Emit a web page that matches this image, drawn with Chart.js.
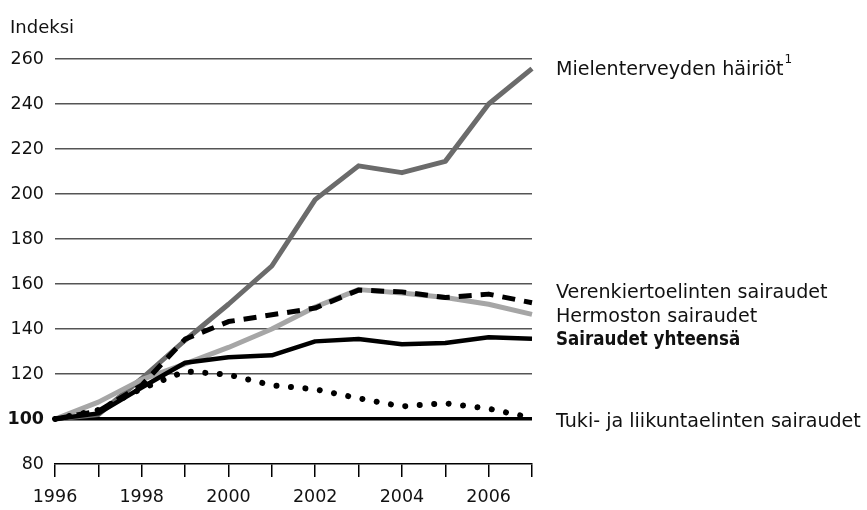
<!DOCTYPE html>
<html>
<head>
<meta charset="utf-8">
<script src="https://cdn.jsdelivr.net/npm/chart.js@4.4.1/dist/chart.umd.min.js"></script>
<style>
  html, body { margin: 0; padding: 0; background: #fff; }
  #wrap { width: 867px; height: 510px; position: relative; }
</style>
</head>
<body>
<div id="wrap"><canvas id="chart"></canvas></div>
<script>
// ─── Data ──────────────────────────────────────
var years = ['1996', '1997', '1998', '1999', '2000', '2001', '2002', '2003', '2004', '2005', '2006', '2007'];
var yTicks = [80, 100, 120, 140, 160, 180, 200, 220, 240, 260];

var mielenterveys = [100, 102, 118, 135, 151, 168, 197.5, 212.5, 209.5, 214.5, 240, 255.7];
var verenkierto   = [100, 103.5, 115, 135.5, 143.3, 146.3, 149.3, 157.3, 156.5, 154, 155.5, 151.7];
var hermosto      = [100, 107.5, 117.5, 124.5, 131.8, 140, 149.8, 157.5, 156, 154, 151, 146.5];
var yhteensa      = [100, 102.5, 114, 125, 127.4, 128.3, 134.5, 135.6, 133.2, 133.8, 136.3, 135.7];
var tuki          = [100, 104, 113.5, 121.2, 119.7, 115, 113.2, 109.2, 105.6, 107, 104.6, 100.5];

var FONT = '"DejaVu Sans"';

// Tekstit oikealla puolella
var sarjaNimet = [
  { text: 'Mielenterveyden häiriöt', sup: '1', y: 75, bold: false },
  { text: 'Verenkiertoelinten sairaudet', y: 298, bold: false },
  { text: 'Hermoston sairaudet', y: 322, bold: false },
  { text: 'Sairaudet yhteensä', y: 345, bold: true },
  { text: 'Tuki- ja liikuntaelinten sairaudet', y: 426.5, bold: false }
];

var labelsPlugin = {
  id: 'sarjaLabels',
  afterDraw: function (chart) {
    var ctx = chart.ctx;
    ctx.save();
    ctx.fillStyle = '#111';
    ctx.textAlign = 'left';
    ctx.textBaseline = 'alphabetic';
    ctx.font = '18px ' + FONT;
    ctx.fillText('Indeksi', 10, 33);
    for (var i = 0; i < sarjaNimet.length; i++) {
      var s = sarjaNimet[i];
      if (s.bold) {
        // lihavoitu teksti on alkuperäisessä kapeampi
        ctx.save();
        ctx.font = 'bold 19px ' + FONT;
        ctx.translate(556, s.y);
        ctx.scale(0.88, 1);
        ctx.fillText(s.text, 0, 0);
        ctx.restore();
        continue;
      }
      ctx.font = '19.1px ' + FONT;
      ctx.fillText(s.text, 556, s.y);
      if (s.sup) {
        var w = ctx.measureText(s.text).width;
        ctx.font = '12px ' + FONT;
        ctx.fillText(s.sup, 556 + w + 1, s.y - 12);
      }
    }
    ctx.restore();
  }
};

function line(label, data, color, width, dash, cap, order) {
  return {
    label: label,
    data: data,
    borderColor: color,
    backgroundColor: color,
    borderWidth: width,
    borderDash: dash,
    borderCapStyle: cap,
    borderJoinStyle: 'round',
    pointRadius: 0,
    tension: 0,
    fill: false,
    order: order
  };
}

new Chart(document.getElementById('chart'), {
  type: 'line',
  data: {
    labels: years,
    datasets: [
      line('Tuki- ja liikuntaelinten sairaudet', tuki, '#000', 6, [0.01, 14.5], 'round', 1),
      line('Verenkiertoelinten sairaudet', verenkierto, '#000', 5, [13, 9], 'butt', 2),
      line('Sairaudet yhteensä', yhteensa, '#000', 4.5, [], 'butt', 3),
      line('Hermoston sairaudet', hermosto, '#a6a6a6', 5, [], 'butt', 4),
      line('Mielenterveyden häiriöt', mielenterveys, '#6b6b6b', 5, [], 'butt', 5)
    ]
  },
  options: {
    responsive: true,
    maintainAspectRatio: false,
    animation: false,
    layout: { padding: { top: 59, right: 335, bottom: 0, left: 0 } },
    plugins: {
      legend: { display: false },
      tooltip: { enabled: false }
    },
    scales: {
      x: {
        offset: false,
        afterFit: function (s) { s.height = 46; },
        border: { display: true, color: '#000', width: 1.5 },
        grid: { drawOnChartArea: false, drawTicks: true, tickLength: 13, color: '#000', lineWidth: 1.5 },
        ticks: {
          autoSkip: false,
          maxRotation: 0,
          padding: 10,
          color: '#111',
          font: { family: FONT, size: 17.5 },
          callback: function (val, idx) { return idx % 2 === 0 ? years[idx] : ''; }
        }
      },
      y: {
        min: yTicks[0],
        max: yTicks[yTicks.length - 1],
        afterFit: function (s) { s.width = 55; },
        afterBuildTicks: function (s) {
          s.ticks = yTicks.map(function (v) { return { value: v }; });
        },
        border: { display: false },
        grid: {
          drawTicks: false,
          color: function (c) {
            if (!c.tick) return '#555';
            if (c.tick.value === 80) return 'rgba(0,0,0,0)';
            return c.tick.value === 100 ? '#000' : '#555';
          },
          lineWidth: function (c) {
            return c.tick && c.tick.value === 100 ? 3.5 : 1.5;
          }
        },
        ticks: {
          padding: 11,
          color: '#111',
          font: function (c) {
            var bold = c.tick && c.tick.value === 100;
            return { family: FONT, size: 17.5, weight: bold ? 'bold' : 'normal' };
          }
        }
      }
    }
  },
  plugins: [labelsPlugin]
});
</script>
</body>
</html>
